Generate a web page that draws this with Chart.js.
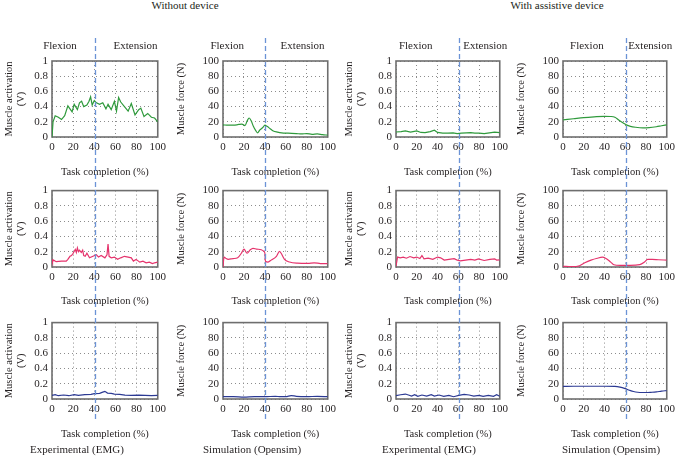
<!DOCTYPE html>
<html>
<head>
<meta charset="utf-8">
<script src="https://cdn.jsdelivr.net/npm/chart.js@4.4.0/dist/chart.umd.min.js"></script>
<style>
  body { margin: 0; background: #fff; }
  #wrap { position: relative; width: 679px; height: 458px; overflow: hidden;
          font-family: "Liberation Serif", serif; color: #231f20; }
  #wrap canvas { position: absolute; }
  .head { position: absolute; top: -1px; font-size: 11px; transform: translateX(-50%); white-space: nowrap; }
</style>
</head>
<body>
<div id="wrap">
  <div class="head" style="left:185px">Without device</div>
  <div class="head" style="left:557px">With assistive device</div>
</div>

<script>
// tick labels
const xTicks = [0, 20, 40, 60, 80, 100];

// row 1 (green) - without device, EMG / Opensim
const m1EmgNoT = [0, 1, 3, 6, 9, 12, 15, 17, 19, 21, 24, 26, 28, 30, 33, 35, 36.5, 38, 40, 42, 45, 48, 51, 53, 56, 59, 61, 63, 65, 68.5, 72, 75, 78.5, 82, 84, 87, 90.5, 94, 97, 100];
const m1EmgNoV = [0, 0.2, 0.28, 0.26, 0.23, 0.28, 0.41, 0.37, 0.33, 0.43, 0.36, 0.45, 0.47, 0.4, 0.42, 0.47, 0.53, 0.42, 0.48, 0.45, 0.43, 0.45, 0.37, 0.43, 0.36, 0.47, 0.34, 0.52, 0.46, 0.4, 0.34, 0.44, 0.29, 0.36, 0.38, 0.27, 0.31, 0.26, 0.25, 0.2];
const m1SimNoT = [0, 5, 10, 15, 18, 21, 23, 25, 27, 29, 31, 33, 35, 38, 40, 42, 45, 48, 52, 56, 62, 70, 75, 80, 85, 90, 95, 100];
const m1SimNoV = [16, 15.5, 15.5, 16.5, 17, 15, 21, 25, 21, 14, 9, 5.5, 9, 12.5, 15.5, 14, 11, 8, 6.5, 5.5, 5, 4.5, 4, 4.5, 3.5, 4, 3, 2.5];
// row 1 (green) - with assistive device
const m1EmgDevT = [0, 5, 9, 14, 20, 24, 28, 33, 37, 40, 45, 50, 55, 59, 63, 68, 72, 76, 80, 85, 90, 95, 100];
const m1EmgDevV = [0.066, 0.07, 0.08, 0.065, 0.08, 0.06, 0.058, 0.07, 0.09, 0.06, 0.052, 0.05, 0.055, 0.045, 0.05, 0.055, 0.058, 0.05, 0.052, 0.045, 0.055, 0.065, 0.058];
const m1SimDevT = [0, 10, 20, 30, 40, 46, 50, 54, 58, 61, 65, 70, 77, 83, 90, 95, 100];
const m1SimDevV = [22.5, 24, 25.5, 26.5, 27.2, 27, 26, 22, 18.5, 16, 14, 12.8, 12, 12.3, 13.5, 14.8, 16];

// row 2 (red)
const m2EmgNoT = [0, 0.5, 1.5, 4, 9, 13.5, 15, 17, 18.5, 20, 22, 23, 24, 25, 26, 27.7, 29, 30, 31.4, 33, 35.5, 38.7, 42, 44, 46.5, 50, 52, 53, 54, 56, 59, 62, 65, 68.5, 72, 75, 77, 79.5, 83, 86, 89, 92, 95, 97, 100];
const m2EmgNoV = [0.1, 0.07, 0.09, 0.07, 0.077, 0.077, 0.1, 0.14, 0.15, 0.18, 0.23, 0.19, 0.25, 0.2, 0.22, 0.19, 0.22, 0.15, 0.14, 0.18, 0.12, 0.14, 0.16, 0.13, 0.15, 0.12, 0.16, 0.3, 0.14, 0.12, 0.13, 0.1, 0.12, 0.14, 0.13, 0.12, 0.077, 0.1, 0.064, 0.077, 0.055, 0.064, 0.045, 0.055, 0.064];
const m2SimNoT = [0, 1, 3, 5, 9.5, 14, 17.5, 20, 23, 26, 28.6, 32, 36.5, 39, 40, 40.5, 43, 46, 51, 54, 55.5, 58.7, 63.5, 71, 81, 87, 93, 100];
const m2SimNoV = [0, 13, 11, 10, 11, 12, 18, 23.5, 18, 22.5, 24.5, 23.5, 22.5, 20.5, 18, 7.5, 6.5, 9, 14, 20.5, 18, 10, 6.5, 5, 4.7, 5.5, 4.5, 4.3];
const m2EmgDevT = [0, 1.5, 4, 7, 10, 13.5, 17, 20, 23, 25, 27, 31, 35.5, 40, 43, 46.5, 51, 56, 59, 62, 67, 72, 76, 79.5, 85, 90.5, 95, 97, 100];
const m2EmgDevV = [0.01, 0.13, 0.12, 0.13, 0.115, 0.137, 0.12, 0.13, 0.11, 0.15, 0.107, 0.115, 0.1, 0.13, 0.12, 0.09, 0.1, 0.11, 0.09, 0.08, 0.09, 0.1, 0.09, 0.107, 0.085, 0.1, 0.107, 0.09, 0.094];
const m2SimDevT = [0, 8, 16, 21, 27, 33, 38, 41, 46, 49, 55, 64.5, 74, 78.5, 81.6, 86, 92, 100];
const m2SimDevV = [1, 0.5, 1.7, 5.5, 9, 11.5, 12.8, 11.5, 6.4, 3, 2, 2, 3, 6.4, 10, 10, 9.5, 9];

// row 3 (blue)
const m3EmgNoT = [0, 3, 6, 11, 16, 21, 25, 31, 37, 40, 45, 48, 50, 52.5, 56, 59, 64, 69, 75, 82, 88, 94, 100];
const m3EmgNoV = [0.048, 0.056, 0.043, 0.052, 0.043, 0.056, 0.048, 0.056, 0.06, 0.07, 0.074, 0.09, 0.1, 0.078, 0.074, 0.065, 0.06, 0.052, 0.048, 0.052, 0.048, 0.043, 0.048];
const m3SimNoT = [0, 10, 20, 30, 40, 50, 55, 60, 65, 70, 80, 90, 100];
const m3SimNoV = [3, 3, 2.5, 3, 3, 3.5, 3, 3, 4.5, 3.5, 3, 3.5, 3];
const m3EmgDevT = [0, 4.5, 9, 12, 15, 18, 21, 25, 29.5, 34, 37, 41.5, 46, 51, 55.5, 60.5, 65.7, 70.5, 75, 80, 84, 89, 94, 97, 100];
const m3EmgDevV = [0.043, 0.056, 0.065, 0.052, 0.039, 0.056, 0.035, 0.052, 0.039, 0.056, 0.039, 0.052, 0.035, 0.048, 0.03, 0.048, 0.06, 0.052, 0.039, 0.048, 0.035, 0.048, 0.035, 0.056, 0.035];
const m3SimDevT = [0, 10, 20, 30, 40, 50, 55, 60, 64, 68, 72, 76, 80, 85, 90, 95, 100];
const m3SimDevV = [16.5, 16.7, 16.7, 16.7, 16.7, 16.5, 15.5, 13.5, 11.5, 9.8, 8.8, 8.5, 8.5, 8.8, 9.3, 10.3, 11];

// flexion / extension boundary per column (task completion %)
const splitAt = [40.5, 40, 61, 60.5];

const panels = [
  [[m1EmgNoT, m1EmgNoV], [m1SimNoT, m1SimNoV], [m1EmgDevT, m1EmgDevV], [m1SimDevT, m1SimDevV]],
  [[m2EmgNoT, m2EmgNoV], [m2SimNoT, m2SimNoV], [m2EmgDevT, m2EmgDevV], [m2SimDevT, m2SimDevV]],
  [[m3EmgNoT, m3EmgNoV], [m3SimNoT, m3SimNoV], [m3EmgDevT, m3EmgDevV], [m3SimDevT, m3SimDevV]]
];
const rowColor = ['#2f9a3c', '#e5336c', '#2b3993'];

// layout
const colX = [0, 170, 340, 512];
const colW = [170, 170, 172, 167];
const yAxisW = [52, 53, 56, 51];
const padRight = [12, 12, 10, 9];
const rowY = [30, 180, 312];
const rowH = [150, 132, 146];
const padTop = [31, 9, 10];
const xAxisH = [43, 45, 59];
const xTitlePad = [1, 4, 17];
const yTitlePad = [2.5, 5, 2.5, 3];
const flexAt = [7.5, 4, 19, 23];
const extAt = [79, 76, 86, 84];
const footText = ['Experimental (EMG)', 'Simulation (Opensim)', 'Experimental (EMG)', 'Simulation (Opensim)'];
const footX = [77, 82, 89, 99];
const dashTop = 38, dashBottom = 422;

const ink = '#231f20';
const serif = "'Liberation Serif', 'DejaVu Serif', serif";
Chart.defaults.font.family = serif;
Chart.defaults.color = ink;

function makeDecor(r, c) {
  return {
    id: 'panelDecor',
    beforeDatasetsDraw(chart) {
      const a = chart.chartArea, ctx = chart.ctx;
      ctx.save();
      ctx.strokeStyle = '#6e6e6e';
      ctx.lineWidth = 1.6;
      ctx.strokeRect(a.left, a.top, a.right - a.left, a.bottom - a.top);
      ctx.restore();
    },
    afterDraw(chart) {
      const ctx = chart.ctx, xs = chart.scales.x;
      const h = chart.height;
      ctx.save();
      // dashed phase line, continuous across the rows of a column
      const px = Math.round(xs.getPixelForValue(splitAt[c])) + 0.5;
      const y0 = Math.max(0, dashTop - rowY[r]);
      const y1 = Math.min(h, dashBottom - rowY[r]);
      ctx.strokeStyle = '#6b93d6';
      ctx.lineWidth = 1.3;
      ctx.setLineDash([5, 3]);
      ctx.lineDashOffset = y0 + rowY[r] - dashTop;
      ctx.beginPath();
      ctx.moveTo(px, y0);
      ctx.lineTo(px, y1);
      ctx.stroke();
      ctx.setLineDash([]);
      ctx.fillStyle = ink;
      ctx.textAlign = 'center';
      ctx.textBaseline = 'middle';
      ctx.font = '11px ' + serif;
      if (r === 0) {
        ctx.fillText('Flexion', xs.getPixelForValue(flexAt[c]), 16);
        ctx.fillText('Extension', xs.getPixelForValue(extAt[c]), 16);
      }
      if (r === 2) {
        ctx.fillText(footText[c], footX[c], 138);
      }
      ctx.restore();
    }
  };
}

const wrap = document.getElementById('wrap');
for (let r = 0; r < 3; r++) {
  for (let c = 0; c < 4; c++) {
    const isSim = c % 2 === 1;
    const [t, v] = panels[r][c];
    const cv = document.createElement('canvas');
    cv.width = colW[c];
    cv.height = rowH[r];
    cv.style.left = colX[c] + 'px';
    cv.style.top = rowY[r] + 'px';
    cv.style.width = colW[c] + 'px';
    cv.style.height = rowH[r] + 'px';
    wrap.appendChild(cv);

    new Chart(cv, {
      type: 'line',
      data: {
        datasets: [{
          data: t.map((x, i) => ({ x: x, y: v[i] })),
          borderColor: rowColor[r],
          borderWidth: 1.2,
          pointRadius: 0,
          fill: false,
          cubicInterpolationMode: isSim ? 'monotone' : 'default',
          tension: 0
        }]
      },
      options: {
        responsive: false,
        animation: false,
        devicePixelRatio: 1,
        events: [],
        layout: { padding: { top: padTop[r], right: padRight[c], left: 0, bottom: 0 } },
        plugins: { legend: { display: false }, tooltip: { enabled: false } },
        scales: {
          x: {
            type: 'linear', min: 0, max: 100,
            afterBuildTicks: s => { s.ticks = xTicks.map(val => ({ value: val })); },
            ticks: { padding: 4, color: ink, autoSkip: false, maxRotation: 0, minRotation: 0,
                     font: { family: serif, size: 11 } },
            grid: { color: '#8c8c8c', lineWidth: 1, drawTicks: false },
            border: { display: false, dash: [1, 3] },
            title: { display: true, text: 'Task completion (%)', color: ink,
                     font: { family: serif, size: 10.5 }, padding: { top: 0, bottom: xTitlePad[r] } },
            afterFit: s => { s.height = xAxisH[r]; }
          },
          y: {
            min: 0, max: isSim ? 100 : 1,
            ticks: { stepSize: isSim ? 20 : 0.2, padding: 4, color: ink, autoSkip: false,
                     callback: val => String(Number(val.toFixed(1))),
                     font: { family: serif, size: 11 } },
            grid: { color: '#8c8c8c', lineWidth: 1, drawTicks: false },
            border: { display: false, dash: [1, 3] },
            title: { display: true, text: isSim ? 'Muscle force (N)' : ['Muscle activation', '(V)'], color: ink,
                     font: { family: serif, size: 10.5 }, padding: { top: yTitlePad[c], bottom: 0 } },
            afterFit: s => { s.width = yAxisW[c]; }
          }
        }
      },
      plugins: [makeDecor(r, c)]
    });
  }
}
</script>
</body>
</html>
